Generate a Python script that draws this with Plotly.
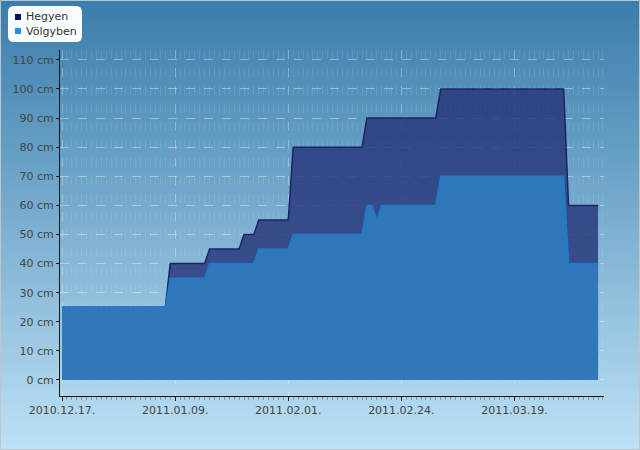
import base64
import plotly.graph_objects as go

# ---- data ----
hegyen_dates = ["2010-12-17", "2011-01-07", "2011-01-08", "2011-01-15", "2011-01-16",
                "2011-01-22", "2011-01-23", "2011-01-25", "2011-01-26", "2011-02-01",
                "2011-02-02", "2011-02-16", "2011-02-17", "2011-03-03", "2011-03-04",
                "2011-03-29", "2011-03-30", "2011-04-05"]
hegyen_cm = [25, 25, 40, 40, 45, 45, 50, 50, 55, 55, 80, 80, 90, 90, 100, 100, 60, 60]

volgyben_dates = ["2010-12-17", "2011-01-07", "2011-01-08", "2011-01-15", "2011-01-16",
                  "2011-01-25", "2011-01-26", "2011-02-01", "2011-02-02", "2011-02-16",
                  "2011-02-17", "2011-02-18", "2011-02-19", "2011-02-20", "2011-03-03",
                  "2011-03-04", "2011-03-29", "2011-03-30", "2011-04-05"]
volgyben_cm = [25, 25, 35, 35, 40, 40, 45, 45, 50, 50, 60, 60, 55, 60, 60, 70, 70, 40, 40]

series_names = ["Hegyen", "Völgyben"]

# ---- layout geometry ----
W, H = 640, 450
L, R, T, B = 60, 36, 50, 54
PW, PH = W - L - R, H - T - B

def px(x):
    return (x - L) / PW

def py(y):
    return (H - B - y) / PH

DAY = 86400000

fig = go.Figure()
fig.add_trace(go.Scatter(
    x=hegyen_dates, y=hegyen_cm, name=series_names[0], mode="lines",
    fill="tozeroy", fillcolor="rgba(38,52,122,0.82)",
    line=dict(color="rgb(28,36,100)", width=1.5), showlegend=False))
fig.add_trace(go.Scatter(
    x=volgyben_dates, y=volgyben_cm, name=series_names[1], mode="lines",
    fill="tozeroy", fillcolor="rgba(48,124,190,0.9)",
    line=dict(color="rgb(30,122,205)", width=1.5), showlegend=False))

# background gradient
svg = f"""<svg xmlns='http://www.w3.org/2000/svg' width='{W}' height='{H}'>
<defs><linearGradient id='g' x1='0' y1='0' x2='0' y2='1'>
<stop offset='0' stop-color='#3a7dab'/><stop offset='1' stop-color='#bde1f6'/>
</linearGradient></defs><rect width='{W}' height='{H}' fill='url(#g)'/></svg>"""
src = "data:image/svg+xml;base64," + base64.b64encode(svg.encode()).decode()

shapes = []
# outer border
shapes.append(dict(type="rect", xref="paper", yref="paper",
                   x0=px(0.5), x1=px(639.5), y0=py(449.5), y1=py(0.5),
                   line=dict(color="#c4c4c4", width=1), fillcolor="rgba(0,0,0,0)",
                   layer="above"))
# legend box (rounded)
x0, x1, y0, y1, r = 8, 82, 6, 42, 6
path = (f"M {px(x0+r)},{py(y0)} L {px(x1-r)},{py(y0)} Q {px(x1)},{py(y0)} {px(x1)},{py(y0+r)} "
        f"L {px(x1)},{py(y1-r)} Q {px(x1)},{py(y1)} {px(x1-r)},{py(y1)} "
        f"L {px(x0+r)},{py(y1)} Q {px(x0)},{py(y1)} {px(x0)},{py(y1-r)} "
        f"L {px(x0)},{py(y0+r)} Q {px(x0)},{py(y0)} {px(x0+r)},{py(y0)} Z")
shapes.append(dict(type="path", xref="paper", yref="paper", path=path,
                   fillcolor="rgba(250,253,255,1)", line=dict(width=0), layer="above"))
legend_colors = ["#0c0f5e", "#1d93de"]
legend_y = [17, 31]
for c, yy in zip(legend_colors, legend_y):
    shapes.append(dict(type="rect", xref="paper", yref="paper",
                       x0=px(15), x1=px(21), y0=py(yy + 3), y1=py(yy - 3),
                       fillcolor=c, line=dict(width=0), layer="above"))

annotations = []
for name, yy in zip(series_names, legend_y):
    annotations.append(dict(xref="paper", yref="paper", x=px(24), y=py(yy),
                            xanchor="left", yanchor="middle", text=name,
                            showarrow=False, font=dict(size=11, color="#333333")))

fig.update_layout(
    width=W, height=H,
    margin=dict(l=L, r=R, t=T, b=B, pad=0),
    paper_bgcolor="white", plot_bgcolor="rgba(0,0,0,0)",
    font=dict(family="DejaVu Sans", size=11, color="#444444"),
    showlegend=False,
    images=[dict(source=src, xref="paper", yref="paper", x=px(0), y=py(0),
                 sizex=W / PW, sizey=H / PH, xanchor="left", yanchor="top",
                 sizing="stretch", layer="below")],
    shapes=shapes, annotations=annotations,
)

fig.update_xaxes(
    type="date",
    range=["2010-12-16 14:00", "2011-04-06 05:00"],
    tick0="2010-12-17", dtick=23 * DAY, tickformat="%Y.%m.%d.",
    showline=True, linecolor="#1a1a1a", linewidth=1,
    ticks="outside", ticklen=4, tickcolor="#1a1a1a",
    showgrid=True, gridcolor="rgba(255,255,255,0.32)", griddash="dash", gridwidth=1,
    minor=dict(dtick=DAY, tick0="2010-12-17", ticks="outside", ticklen=3,
               tickcolor="rgba(120,130,140,0.8)", showgrid=True,
               gridcolor="rgba(255,255,255,0.1)", griddash="dash", gridwidth=1),
    zeroline=False, tickfont=dict(size=11, color="#444444"),
)
fig.update_yaxes(
    range=[-5.5, 113.4], dtick=10, tick0=0, ticksuffix=" cm",
    showline=True, linecolor="#1a1a1a", linewidth=1,
    ticks="outside", ticklen=3, tickcolor="#1a1a1a",
    showgrid=True, gridcolor="rgba(255,255,255,0.38)", griddash="dash", gridwidth=1,
    zeroline=False, tickfont=dict(size=11, color="#444444"),
)

fig.write_html("out.html")
